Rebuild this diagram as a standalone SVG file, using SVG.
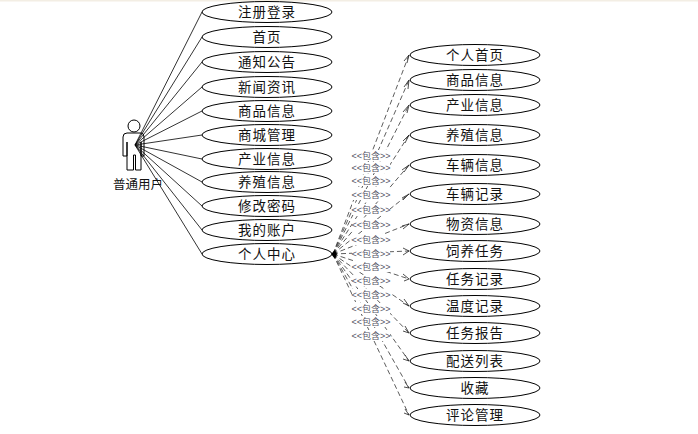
<svg xmlns="http://www.w3.org/2000/svg" width="698" height="434" viewBox="0 0 698 434">
<style>
.u{fill:#fff;stroke:#000;stroke-width:1}
.t{font-family:"Noto Sans CJK SC","Liberation Sans",sans-serif;font-size:13.500px;fill:#111;text-anchor:middle;letter-spacing:1px}
.s{stroke:#000;stroke-width:.8;fill:none}
.d{stroke:#333;stroke-width:.8;stroke-dasharray:5 3;fill:none}
.a{stroke:#222;stroke-width:.8;fill:none}
.l{font-family:"Liberation Sans","Noto Sans CJK SC",sans-serif;font-size:9px;fill:#556;text-anchor:middle;word-spacing:-2.500px}
.b{fill:#fff}
</style>
<rect width="698" height="434" fill="#fff"/>
<rect width="698" height="1.500" fill="#f3eee4"/>
<g id="connectors">
<path class="d" d="M333 254L409 55M333 254L409 80M333 254L409 105M333 254L409 135M333 254L409 165M333 254L409 194M333 254L409 224M333 254L409 251M333 254L409 279M333 254L409 306M333 254L409 333M333 254L409 361M333 254L409 388M333 254L409 415"/>
<path class="a" d="M404 61L409 55L407 63M404 87L409 80L408 89M403 112L409 105L407 113M403 141L409 135L405 143M402 170L409 165L404 172M402 198L409 194L403 200M402 226L409 224L403 229M403 248L409 251L403 255M403 274L409 279L404 281M404 299L409 306L403 303M405 326L409 333L403 331M405 355L409 361L403 359M405 382L409 388L404 387M405 409L409 415L404 413"/>
<path fill="#000" d="M331 254L335 250L337 254L335 259Z"/>
<g>
<rect class="b" x="352" y="150" width="38" height="11"/><text class="l" x="371" y="159">&lt;&lt; 包含 &gt;&gt;</text>
<rect class="b" x="352" y="162" width="38" height="11"/><text class="l" x="371" y="171">&lt;&lt; 包含 &gt;&gt;</text>
<rect class="b" x="352" y="175" width="38" height="11"/><text class="l" x="371" y="184">&lt;&lt; 包含 &gt;&gt;</text>
<rect class="b" x="352" y="189" width="38" height="11"/><text class="l" x="371" y="198">&lt;&lt; 包含 &gt;&gt;</text>
<rect class="b" x="352" y="204" width="38" height="11"/><text class="l" x="371" y="213">&lt;&lt; 包含 &gt;&gt;</text>
<rect class="b" x="352" y="219" width="38" height="11"/><text class="l" x="371" y="228">&lt;&lt; 包含 &gt;&gt;</text>
<rect class="b" x="352" y="234" width="38" height="11"/><text class="l" x="371" y="243">&lt;&lt; 包含 &gt;&gt;</text>
<rect class="b" x="352" y="248" width="38" height="11"/><text class="l" x="371" y="257">&lt;&lt; 包含 &gt;&gt;</text>
<rect class="b" x="352" y="261" width="38" height="11"/><text class="l" x="371" y="270">&lt;&lt; 包含 &gt;&gt;</text>
<rect class="b" x="352" y="275" width="38" height="11"/><text class="l" x="371" y="284">&lt;&lt; 包含 &gt;&gt;</text>
<rect class="b" x="352" y="289" width="38" height="11"/><text class="l" x="371" y="298">&lt;&lt; 包含 &gt;&gt;</text>
<rect class="b" x="352" y="303" width="38" height="11"/><text class="l" x="371" y="312">&lt;&lt; 包含 &gt;&gt;</text>
<rect class="b" x="352" y="316" width="38" height="11"/><text class="l" x="371" y="325">&lt;&lt; 包含 &gt;&gt;</text>
<rect class="b" x="352" y="330" width="38" height="11"/><text class="l" x="371" y="339">&lt;&lt; 包含 &gt;&gt;</text>
</g>
</g>
<g id="actor">
<circle class="u" cx="134" cy="126" r="6"/>
<path class="u" d="M127 133H141Q144 133 144 137V156H141V142V170H135.500V155H133.500V170H127V142V156H123V137Q123 133 127 133Z"/>
<path class="s" d="M135 145L202 12M135 145L202 37M135 145L202 62M135 145L202 87M135 145L202 111M135 145L202 135M135 145L202 159M135 145L202 182M135 145L202 206M135 145L202 230M135 145L202 254"/>
<text class="t" x="138" y="189" style="font-size:12.500px;letter-spacing:0">普通用户</text>
</g>
<g id="n1"><ellipse class="u" cx="267" cy="12" rx="65" ry="10.500"/><text class="t" x="267" y="17">注册登录</text></g>
<g id="n2"><ellipse class="u" cx="267" cy="37" rx="65" ry="10.500"/><text class="t" x="267" y="42">首页</text></g>
<g id="n3"><ellipse class="u" cx="267" cy="62" rx="65" ry="10.500"/><text class="t" x="267" y="67">通知公告</text></g>
<g id="n4"><ellipse class="u" cx="267" cy="87" rx="65" ry="10.500"/><text class="t" x="267" y="92">新闻资讯</text></g>
<g id="n5"><ellipse class="u" cx="267" cy="111" rx="65" ry="10.500"/><text class="t" x="267" y="116">商品信息</text></g>
<g id="n6"><ellipse class="u" cx="267" cy="135" rx="65" ry="10.500"/><text class="t" x="267" y="140">商城管理</text></g>
<g id="n7"><ellipse class="u" cx="267" cy="159" rx="65" ry="10.500"/><text class="t" x="267" y="164">产业信息</text></g>
<g id="n8"><ellipse class="u" cx="267" cy="182" rx="65" ry="10.500"/><text class="t" x="267" y="187">养殖信息</text></g>
<g id="n9"><ellipse class="u" cx="267" cy="206" rx="65" ry="10.500"/><text class="t" x="267" y="211">修改密码</text></g>
<g id="n10"><ellipse class="u" cx="267" cy="230" rx="65" ry="10.500"/><text class="t" x="267" y="235">我的账户</text></g>
<g id="n11"><ellipse class="u" cx="267" cy="254" rx="65" ry="10.500"/><text class="t" x="267" y="259">个人中心</text></g>
<g id="r1"><ellipse class="u" cx="475" cy="55" rx="65" ry="10.500"/><text class="t" x="475" y="60">个人首页</text></g>
<g id="r2"><ellipse class="u" cx="475" cy="80" rx="65" ry="10.500"/><text class="t" x="475" y="85">商品信息</text></g>
<g id="r3"><ellipse class="u" cx="475" cy="105" rx="65" ry="10.500"/><text class="t" x="475" y="110">产业信息</text></g>
<g id="r4"><ellipse class="u" cx="475" cy="135" rx="65" ry="10.500"/><text class="t" x="475" y="140">养殖信息</text></g>
<g id="r5"><ellipse class="u" cx="475" cy="165" rx="65" ry="10.500"/><text class="t" x="475" y="170">车辆信息</text></g>
<g id="r6"><ellipse class="u" cx="475" cy="194" rx="65" ry="10.500"/><text class="t" x="475" y="199">车辆记录</text></g>
<g id="r7"><ellipse class="u" cx="475" cy="224" rx="65" ry="10.500"/><text class="t" x="475" y="229">物资信息</text></g>
<g id="r8"><ellipse class="u" cx="475" cy="251" rx="65" ry="10.500"/><text class="t" x="475" y="256">饲养任务</text></g>
<g id="r9"><ellipse class="u" cx="475" cy="279" rx="65" ry="10.500"/><text class="t" x="475" y="284">任务记录</text></g>
<g id="r10"><ellipse class="u" cx="475" cy="306" rx="65" ry="10.500"/><text class="t" x="475" y="311">温度记录</text></g>
<g id="r11"><ellipse class="u" cx="475" cy="333" rx="65" ry="10.500"/><text class="t" x="475" y="338">任务报告</text></g>
<g id="r12"><ellipse class="u" cx="475" cy="361" rx="65" ry="10.500"/><text class="t" x="475" y="366">配送列表</text></g>
<g id="r13"><ellipse class="u" cx="475" cy="388" rx="65" ry="10.500"/><text class="t" x="475" y="393">收藏</text></g>
<g id="r14"><ellipse class="u" cx="475" cy="415" rx="65" ry="10.500"/><text class="t" x="475" y="420">评论管理</text></g>
</svg>
